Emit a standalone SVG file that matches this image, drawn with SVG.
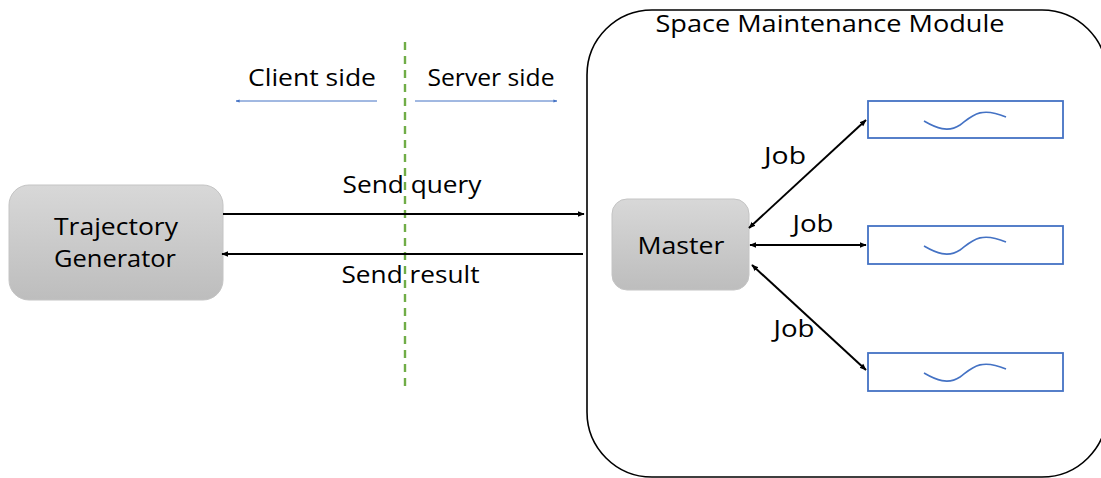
<svg xmlns="http://www.w3.org/2000/svg" width="1101" height="478" viewBox="0 0 1101 478">
<defs>
<linearGradient id="gray" x1="0" y1="0" x2="0" y2="1">
<stop offset="0" stop-color="#d8d8d8"/>
<stop offset="1" stop-color="#bdbdbd"/>
</linearGradient>
<marker id="ah" viewBox="0 0 10 10" refX="9" refY="5" markerWidth="7" markerHeight="7" orient="auto-start-reverse" markerUnits="userSpaceOnUse">
<path d="M0,1 L10,5 L0,9 z" fill="#000"/>
</marker>
<marker id="ahb" viewBox="0 0 10 10" refX="9" refY="5" markerWidth="4" markerHeight="4" orient="auto-start-reverse" markerUnits="userSpaceOnUse">
<path d="M0,1 L10,5 L0,9 z" fill="#4472c4"/>
</marker>
</defs>
<style>
text{font-family:"Open Sans","Noto Sans","Liberation Sans",sans-serif;fill:#000;text-anchor:middle;font-weight:500;}
.lbl{font-size:23px;}
.big{font-size:24.5px;}
.gbox{fill:url(#gray);stroke:#c4c4c4;stroke-width:1;}
.wbox{fill:#fff;stroke:#4472c4;stroke-width:1.8;}
.wave{fill:none;stroke:#4472c4;stroke-width:1.6;}
.conn{stroke:#000;stroke-width:2;fill:none;}
</style>
<rect width="1101" height="478" fill="#fff"/>
<g id="module">
<rect x="587" y="10" width="520" height="467" rx="65" ry="65" fill="none" stroke="#000" stroke-width="1.6"/>
<text class="lbl" x="830" y="32" textLength="349" lengthAdjust="spacingAndGlyphs">Space Maintenance Module</text>
</g>
<g id="divider">
<line x1="405" y1="42" x2="405" y2="386" stroke="#70ad47" stroke-width="2.4" stroke-dasharray="8,6"/>
<text class="lbl" x="312" y="86" textLength="128" lengthAdjust="spacingAndGlyphs">Client side</text>
<text class="lbl" x="491" y="86" textLength="127" lengthAdjust="spacingAndGlyphs">Server side</text>
<line x1="377" y1="101" x2="236" y2="101" stroke="#4472c4" stroke-width="1" marker-end="url(#ahb)"/>
<line x1="415" y1="101" x2="557" y2="101" stroke="#4472c4" stroke-width="1" marker-end="url(#ahb)"/>
</g>
<g id="trajectory-generator">
<rect class="gbox" x="9" y="185" width="214" height="115" rx="20" ry="20"/>
<text class="big" x="116" y="235" textLength="124" lengthAdjust="spacingAndGlyphs">Trajectory</text>
<text class="big" x="115" y="267" textLength="122" lengthAdjust="spacingAndGlyphs">Generator</text>
</g>
<g id="master">
<rect class="gbox" x="612" y="199" width="137" height="91" rx="15" ry="15"/>
<text class="big" x="681" y="254" textLength="87" lengthAdjust="spacingAndGlyphs">Master</text>
</g>
<g id="worker1">
<rect class="wbox" x="868" y="101" width="195" height="37"/>
<path class="wave" d="M924,121 C936,128 948,133 960,125 C972,116 980,106 1006,117"/>
</g>
<g id="worker2">
<rect class="wbox" x="868" y="226" width="195" height="38"/>
<path class="wave" d="M924,246 C936,253 948,258 960,250 C972,241 980,231 1006,242"/>
</g>
<g id="worker3">
<rect class="wbox" x="868" y="353" width="195" height="38"/>
<path class="wave" d="M924,373 C936,380 948,385 960,377 C972,368 980,358 1006,369"/>
</g>
<g id="connectors">
<line class="conn" x1="223" y1="214" x2="584" y2="214" marker-end="url(#ah)"/>
<line class="conn" x1="583" y1="254" x2="222" y2="254" marker-end="url(#ah)"/>
<text class="lbl" x="412" y="193" textLength="139" lengthAdjust="spacingAndGlyphs">Send query</text>
<text class="lbl" x="410.5" y="283" textLength="138" lengthAdjust="spacingAndGlyphs">Send result</text>
<line class="conn" x1="749" y1="228" x2="866" y2="120" marker-start="url(#ah)" marker-end="url(#ah)"/>
<line class="conn" x1="750" y1="245" x2="866" y2="245" marker-start="url(#ah)" marker-end="url(#ah)"/>
<line class="conn" x1="752" y1="265" x2="866" y2="370" marker-start="url(#ah)" marker-end="url(#ah)"/>
<text class="lbl" x="785" y="164" textLength="42" lengthAdjust="spacingAndGlyphs">Job</text>
<text class="lbl" x="813" y="232" textLength="41" lengthAdjust="spacingAndGlyphs">Job</text>
<text class="lbl" x="794" y="337" textLength="41" lengthAdjust="spacingAndGlyphs">Job</text>
</g>
</svg>
